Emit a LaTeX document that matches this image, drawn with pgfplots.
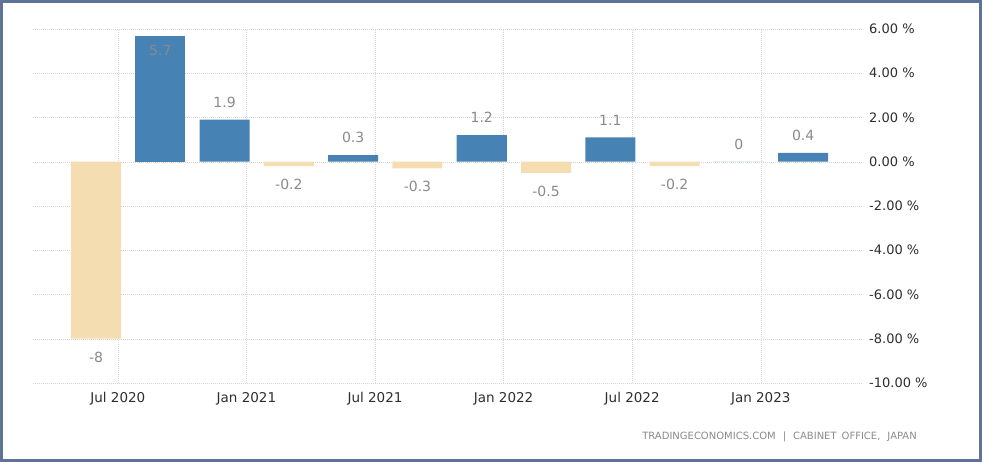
\documentclass[border=0pt]{standalone}
\usepackage{pgfplots}
\pgfplotsset{compat=1.18}
\usepackage{fontspec}
\setmainfont{DejaVu Sans}

\definecolor{barblue}{HTML}{4682B4}
\definecolor{barwheat}{HTML}{F3DDB1}
\definecolor{vallabel}{HTML}{8A8A8A}
\definecolor{ticktext}{HTML}{2E2E2E}
\definecolor{gridgray}{HTML}{D6D6D6}
\definecolor{framecol}{HTML}{5F7399}

\begin{document}
\begin{tikzpicture}
  % quarterly GDP growth, q/q %, bar i at x=i
  \begin{axis}[
    at={(33bp,79bp)}, anchor=south west,
    scale only axis, width=830bp, height=354bp,
    xmin=-0.98, xmax=11.93, ymin=-10, ymax=6,
    axis line style={draw=none},
    major tick length=0pt,
    grid=major,
    grid style={gridgray, dash pattern=on 1bp off 1bp},
    xtick={0.34,2.34,4.34,6.34,8.34,10.34},
    xticklabels={Jul 2020,Jan 2021,Jul 2021,Jan 2022,Jul 2022,Jan 2023},
    xticklabel style={font=\fontsize{13.5bp}{16bp}\selectfont, text=ticktext,
      inner sep=0pt, anchor=north, yshift=-9bp},
    ytick={-10,-8,...,6},
    yticklabels={-10.00 \%,-8.00 \%,-6.00 \%,-4.00 \%,-2.00 \%,0.00 \%,2.00 \%,4.00 \%,6.00 \%},
    yticklabel pos=right,
    yticklabel style={font=\fontsize{13bp}{16bp}\selectfont, text=ticktext,
      inner sep=0pt, anchor=west, xshift=6bp},
    ybar, bar width=0.778,
    point meta=explicit symbolic,
    nodes near coords={\pgfplotspointmeta},
    nodes near coords style={font=\fontsize{14bp}{16bp}\selectfont, text=vallabel, inner sep=0pt},
  ]
    % positive and zero quarters
    \addplot[fill=barblue, draw=none, bar shift=0pt,
      nodes near coords style={anchor=south, yshift=12bp}]
      coordinates {(2,1.9) [1.9] (4,0.3) [0.3] (6,1.2) [1.2] (8,1.1) [1.1] (10,0) [0] (11,0.4) [0.4]};
    % 5.7 label sits inside the bar
    \addplot[fill=barblue, draw=none, bar shift=0pt,
      nodes near coords style={anchor=north, yshift=-9bp}]
      coordinates {(1,5.7) [5.7]};
    % negative quarters
    \addplot[fill=barwheat, draw=none, bar shift=0pt,
      nodes near coords style={anchor=north, yshift=-13bp}]
      coordinates {(0,-8) [-8] (3,-0.2) [-0.2] (5,-0.3) [-0.3] (7,-0.5) [-0.5] (9,-0.2) [-0.2]};
  \end{axis}

  \node[anchor=east, inner sep=0pt, text=vallabel, font=\fontsize{10bp}{12bp}\selectfont]
    at (917bp,25bp) {TRADINGECONOMICS.COM\hspace{7bp}|\hspace{7bp}CABINET\hspace{5bp}OFFICE,\hspace{7bp}JAPAN};

  \draw[framecol, line width=3bp] (1.5bp,1.5bp) rectangle (980.5bp,460.5bp);
\end{tikzpicture}
\end{document}
